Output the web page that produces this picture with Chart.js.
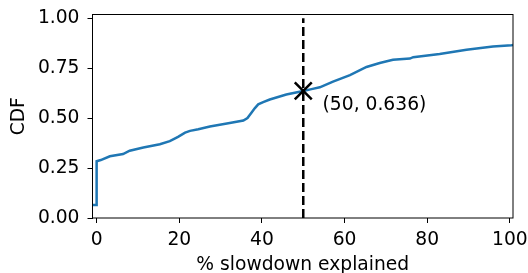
<!DOCTYPE html>
<html>
<head>
<meta charset="utf-8">
<script src="https://cdn.jsdelivr.net/npm/chart.js@4"></script>
<style>
  body { margin: 0; background: #fff; }
  #wrap { width: 528px; height: 273px; }
</style>
</head>
<body>
<div id="wrap"><canvas id="chart"></canvas></div>
<script>
'use strict'

// CDF curve
const cdfX = [-1, 0, 0, 1, 3.2, 6.4, 8, 11.3, 15.3, 17.7, 19.7, 21.4, 22.6, 24.6, 27.4, 32.2, 35.5, 36.5, 37.5, 38.3, 39.1, 40.3, 41.9, 45.9, 50, 52, 54, 57.2, 61.3, 65.3, 68.5, 71.7, 75.8, 76.6, 83, 89.5, 95.9, 100.4, 100.75];
const cdfY = [0.065, 0.065, 0.284, 0.29, 0.309, 0.32, 0.337, 0.353, 0.369, 0.385, 0.406, 0.427, 0.436, 0.444, 0.458, 0.475, 0.488, 0.5, 0.528, 0.55, 0.569, 0.58, 0.593, 0.618, 0.636, 0.645, 0.654, 0.683, 0.715, 0.756, 0.776, 0.792, 0.798, 0.805, 0.821, 0.842, 0.858, 0.865, 0.866];

const markX = 50;
const markY = 0.636;

const xTicks = [0, 20, 40, 60, 80, 100];
const yTicks = [0, 0.25, 0.5, 0.75, 1.0];

const font = { family: 'DejaVu Sans', size: 18.7 };

const boxPlugin = {
    id: 'box',
    afterDraw(chart) {
        const { ctx, chartArea: a, scales } = chart;
        ctx.save();
        ctx.strokeStyle = '#000';
        ctx.lineWidth = 1;
        ctx.strokeRect(a.left, a.top, a.right - a.left, a.bottom - a.top);
        // annotation text
        ctx.fillStyle = '#000';
        ctx.font = `${font.size}px "${font.family}"`;
        ctx.textAlign = 'left';
        ctx.textBaseline = 'alphabetic';
        const px = scales.x.getPixelForValue(markX) + 19.3;
        const py = scales.y.getPixelForValue(markY) + 19;
        ctx.fillText(`(${markX}, ${markY})`, px, py);
        ctx.restore();
    }
};

new Chart(document.getElementById('chart'), {
    type: 'line',
    data: {
        datasets: [
            {
                data: [{ x: markX, y: markY }],
                showLine: false,
                pointStyle: 'crossRot',
                pointRadius: 12,
                pointBorderWidth: 2.5,
                pointBorderColor: '#000',
                pointBackgroundColor: '#000'
            },
            {
                data: [{ x: markX, y: 0 }, { x: markX, y: 1 }],
                borderColor: '#000',
                borderWidth: 2.5,
                borderDash: [9, 4],
                pointRadius: 0
            },
            {
                data: cdfX.map((x, i) => ({ x: x, y: cdfY[i] })),
                borderColor: '#1f77b4',
                borderWidth: 2.5,
                pointRadius: 0,
                tension: 0
            }
        ]
    },
    options: {
        responsive: true,
        maintainAspectRatio: false,
        animation: false,
        devicePixelRatio: 1,
        layout: { padding: { top: 9.5, right: 15, left: 0, bottom: 0 } },
        plugins: { legend: { display: false }, tooltip: { enabled: false } },
        scales: {
            x: {
                type: 'linear',
                min: -1,
                max: 100.75,
                afterBuildTicks: s => { s.ticks = xTicks.map(v => ({ value: v })); },
                afterFit: s => { s.height = 55; s.paddingLeft = 0; s.paddingRight = 0; },
                border: { display: false },
                grid: { drawOnChartArea: false, drawTicks: true, tickLength: 5, color: '#000', tickWidth: 1 },
                ticks: { color: '#000', font: font, padding: 6, maxRotation: 0, callback: v => String(v) },
                title: { display: true, text: '% slowdown explained', color: '#000', font: font, padding: { top: 0, bottom: -3.4 } }
            },
            y: {
                min: 0,
                max: 1.0185,
                afterBuildTicks: s => { s.ticks = yTicks.map(v => ({ value: v })); },
                afterFit: s => { s.width = 92.5; s.paddingTop = 0; s.paddingBottom = 0; },
                border: { display: false },
                grid: { drawOnChartArea: false, drawTicks: true, tickLength: 5, color: '#000', tickWidth: 1 },
                ticks: { color: '#000', font: font, padding: 8, callback: v => v.toFixed(2) },
                title: { display: true, text: 'CDF', color: '#000', font: font, padding: { top: 8, bottom: 0 } }
            }
        }
    },
    plugins: [boxPlugin]
});
</script>
</body>
</html>
